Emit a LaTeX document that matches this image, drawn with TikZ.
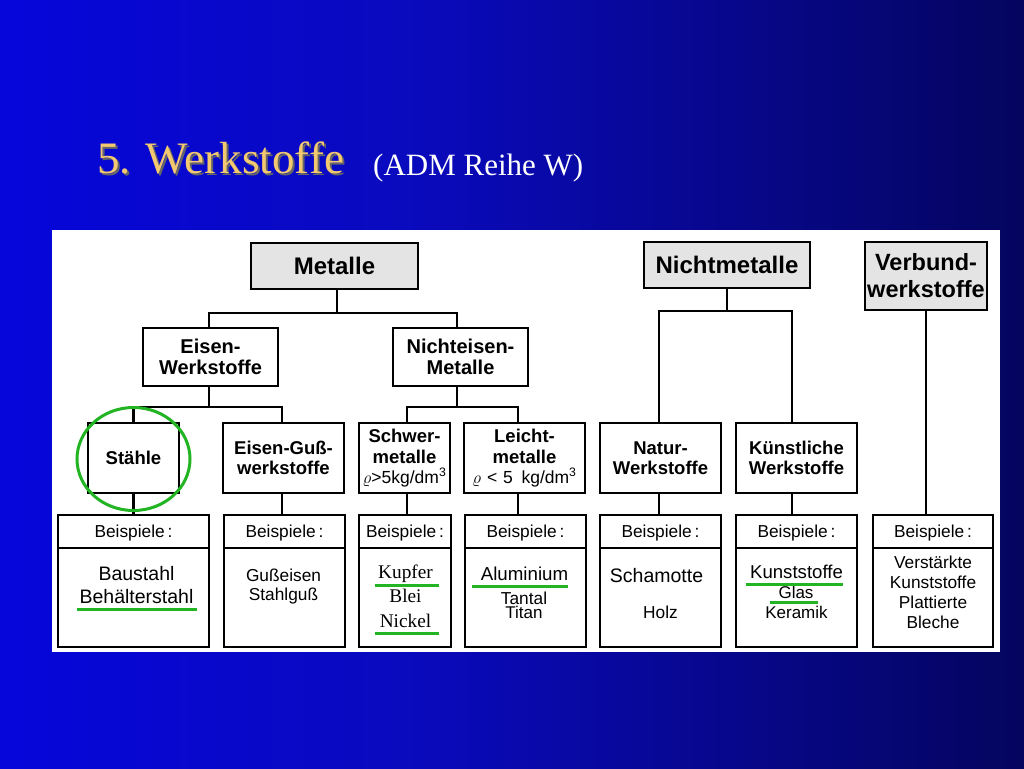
\documentclass[tikz,border=0pt]{standalone}
\usepackage{fontspec}
\setmainfont{Liberation Serif}
\setsansfont{Liberation Sans}
\usetikzlibrary{calc}
\definecolor{gold}{RGB}{242,200,112}
\definecolor{mkgreen}{RGB}{34,180,34}
\definecolor{boxgray}{RGB}{228,228,228}
\definecolor{bgA}{RGB}{0,0,255}
\definecolor{bgB}{RGB}{10,10,190}
\definecolor{bgC}{RGB}{0,0,15}
\pgfdeclarehorizontalshading{bgshade}{100bp}{color(0bp)=(bgA); color(45bp)=(bgB); color(100bp)=(bgC)}
\begin{document}
\begin{tikzpicture}[x=1pt,y=-1pt,
  box/.style={draw, line width=2.4pt, rectangle, inner sep=0pt, align=center},
  topbox/.style={box, fill=boxgray, minimum height=46pt, font=\sffamily\bfseries\fontsize{24}{27}\selectfont},
  midbox/.style={box, minimum width=135pt, minimum height=58pt, font=\sffamily\bfseries\fontsize{20}{21.5}\selectfont},
  lowbox/.style={box, minimum height=70pt, font=\sffamily\bfseries\fontsize{18.5}{20.5}\selectfont},
  bspbox/.style={draw, line width=2.4pt, rectangle, inner sep=0pt, minimum height=132pt,
    path picture={\draw[line width=2pt] ([yshift=-33pt]path picture bounding box.north west) -- ([yshift=-33pt]path picture bounding box.north east);}},
  head/.style={anchor=base, inner sep=0pt, font=\sffamily\fontsize{17.3}{20}\selectfont},
  ex/.style={anchor=base, inner sep=0pt, font=\sffamily\fontsize{17.3}{20}\selectfont},
  exbig/.style={anchor=base, inner sep=0pt, font=\sffamily\fontsize{19.5}{20}\selectfont},
  exserif/.style={anchor=base, inner sep=0pt, font=\rmfamily\fontsize{19.3}{20}\selectfont},
  conn/.style={line width=2.2pt},
  gline/.style={draw=mkgreen, line width=3pt}
]
\useasboundingbox (0,0) rectangle (1024,768);
\shade[shading=bgshade] (0,0) rectangle (1024,768);

% title
\node (titleshadow) [anchor=base west, inner sep=0pt, text=black!60, font=\rmfamily\fontsize{45}{45}\selectfont] at (99,175) {5. Werkstoffe};
\node (title) [anchor=base west, inner sep=0pt, text=gold, font=\rmfamily\fontsize{45}{45}\selectfont] at (97,173) {5. Werkstoffe};
\node (sub) [anchor=base west, inner sep=0pt, text=white, font=\rmfamily\fontsize{31}{31}\selectfont] at (373,175) {(ADM Reihe W)};

% white panel
\fill[white] (52,230) rectangle (1000,652);

% level 1
\node (metalle) [topbox, minimum width=167pt] at (334.5,266) {Metalle};
\node (nichtm) [topbox, minimum width=166pt] at (727,265) {Nichtmetalle};
\node (verbund) [topbox, minimum width=122pt, minimum height=68pt, font=\sffamily\bfseries\fontsize{23.5}{27}\selectfont] at (926,276) {Verbund-\\werkstoffe};

% level 2
\node (eisenw) [midbox] at (210.5,357) {Eisen-\\Werkstoffe};
\node (nichteisen) [midbox] at (460.5,357) {Nichteisen-\\Metalle};

% level 3
\node (staehle) [lowbox, minimum width=91pt] at (133.5,458) {Stähle};
\node (eisenguss) [lowbox, minimum width=121pt] at (283.5,458) {Eisen-Guß-\\werkstoffe};
\node (schwer) [lowbox, minimum width=91pt] at (404.5,458) {Schwer-\\metalle\\[-0.5pt]{\mdseries\fontsize{17.5}{19}\selectfont$\varrho$>5kg/dm\textsuperscript{3}}};
\node (leicht) [lowbox, minimum width=121pt] at (524.5,458) {Leicht-\\metalle\\[-0.5pt]{\mdseries\fontsize{17.5}{19}\selectfont$\varrho$\,\,<\,\,5\,\,\,kg/dm\textsuperscript{3}}};
\node (natur) [lowbox, minimum width=121pt] at (660.5,458) {Natur-\\Werkstoffe};
\node (kuenst) [lowbox, minimum width=121pt] at (796.5,458) {Künstliche\\Werkstoffe};

% example boxes
\node (bstaehle) [bspbox, minimum width=151pt] at (133.5,581) {};
\node (beisen) [bspbox, minimum width=121pt] at (284.5,581) {};
\node (bschwer) [bspbox, minimum width=92pt] at (405,581) {};
\node (bleicht) [bspbox, minimum width=121pt] at (525.5,581) {};
\node (bnatur) [bspbox, minimum width=121pt] at (660.5,581) {};
\node (bkuenst) [bspbox, minimum width=121pt] at (796.5,581) {};
\node (bverbund) [bspbox, minimum width=120pt] at (933,581) {};

% headers
\node (h1) [head] at (133.5,537) {Beispiele\,:};
\node (h2) [head] at (284.5,537) {Beispiele\,:};
\node (h3) [head] at (405,537) {Beispiele\,:};
\node (h4) [head] at (525.5,537) {Beispiele\,:};
\node (h5) [head] at (660.5,537) {Beispiele\,:};
\node (h6) [head] at (796.5,537) {Beispiele\,:};
\node (h7) [head] at (933,537) {Beispiele\,:};

% contents
\node (baustahl) [exbig] at (136.5,580) {Baustahl};
\node (behaelter) [exbig] at (136.5,603) {Behälterstahl};
\node (gusseisen) [ex] at (283.5,581) {Gußeisen};
\node (stahlguss) [ex] at (283.5,600) {Stahlguß};
\node (kupfer) [exserif] at (405.5,578) {Kupfer};
\node (blei) [exserif] at (405.5,602) {Blei};
\node (nickel) [exserif] at (405.5,627) {Nickel};
\node (alu) [ex, font=\sffamily\fontsize{18.7}{20}\selectfont] at (524.5,580) {Aluminium};
\node (tantal) [ex] at (524,604) {Tantal};
\node (titan) [ex, font=\sffamily\fontsize{17}{20}\selectfont] at (524,618) {Titan};
\node (schamotte) [exbig] at (656.5,582) {Schamotte};
\node (holz) [ex] at (660.5,618) {Holz};
\node (kunststoffe) [ex, font=\sffamily\fontsize{18.6}{20}\selectfont] at (796.5,578) {Kunststoffe};
\node (glas) [ex, font=\sffamily\fontsize{17}{20}\selectfont] at (796,598) {Glas};
\node (keramik) [ex, font=\sffamily\fontsize{17}{20}\selectfont] at (796.5,618) {Keramik};
\node (v1) [ex] at (933,568) {Verstärkte};
\node (v2) [ex] at (933,588) {Kunststoffe};
\node (v3) [ex] at (933,608) {Plattierte};
\node (v4) [ex] at (933,628) {Bleche};

% connectors: Metalle
\path ([xshift=2.5pt]metalle.south) ++(0,23) coordinate (mj);
\draw[conn] ([xshift=2.5pt]metalle.south) -- (mj);
\draw[conn] ([xshift=-1.5pt]eisenw.north) |- (mj) -| ([xshift=-3.5pt]nichteisen.north);
% Eisen-Werkstoffe
\path ([xshift=-1.5pt]eisenw.south) ++(0,20) coordinate (ej);
\draw[conn] ([xshift=-1.5pt]eisenw.south) -- (ej);
\draw[conn] (staehle.north) |- (ej) -| ([xshift=-1.5pt]eisenguss.north);
\draw[conn] (staehle.south) -- (bstaehle.north);
\draw[conn] ([xshift=-1.5pt]eisenguss.south) -- ([xshift=-2.5pt]beisen.north);
% Nichteisen
\path ([xshift=-3.5pt]nichteisen.south) ++(0,20) coordinate (nj);
\draw[conn] ([xshift=-3.5pt]nichteisen.south) -- (nj);
\draw[conn] ([xshift=2.5pt]schwer.north) |- (nj) -| ([xshift=-6.5pt]leicht.north);
\draw[conn] ([xshift=2.5pt]schwer.south) -- ([xshift=2pt]bschwer.north);
\draw[conn] ([xshift=-6.5pt]leicht.south) -- ([xshift=-7.5pt]bleicht.north);
% Nichtmetalle
\path (nichtm.south) ++(0,22) coordinate (nmj);
\draw[conn] (nichtm.south) -- (nmj);
\draw[conn] ([xshift=-1.5pt]natur.north) |- (nmj) -| ([xshift=-4.5pt]kuenst.north);
\draw[conn] ([xshift=-1.5pt]natur.south) -- ([xshift=-1.5pt]bnatur.north);
\draw[conn] ([xshift=-4.5pt]kuenst.south) -- ([xshift=-4.5pt]bkuenst.north);
% Verbund
\draw[conn] (verbund.south) -- (verbund.south |- bverbund.north);

% green marks
\draw[mkgreen, line width=3pt] (133.5,459) ellipse [x radius=56.5, y radius=51.5];
\draw[gline] (77,609) -- (197,609);
\draw[gline] (375,585) -- (439,585);
\draw[gline] (375,633) -- (439,633);
\draw[gline] (472,586) -- (568,586);
\draw[gline] (746,584) -- (843,584);
\draw[gline] (770,602) -- (818,602);
\end{tikzpicture}
\end{document}
